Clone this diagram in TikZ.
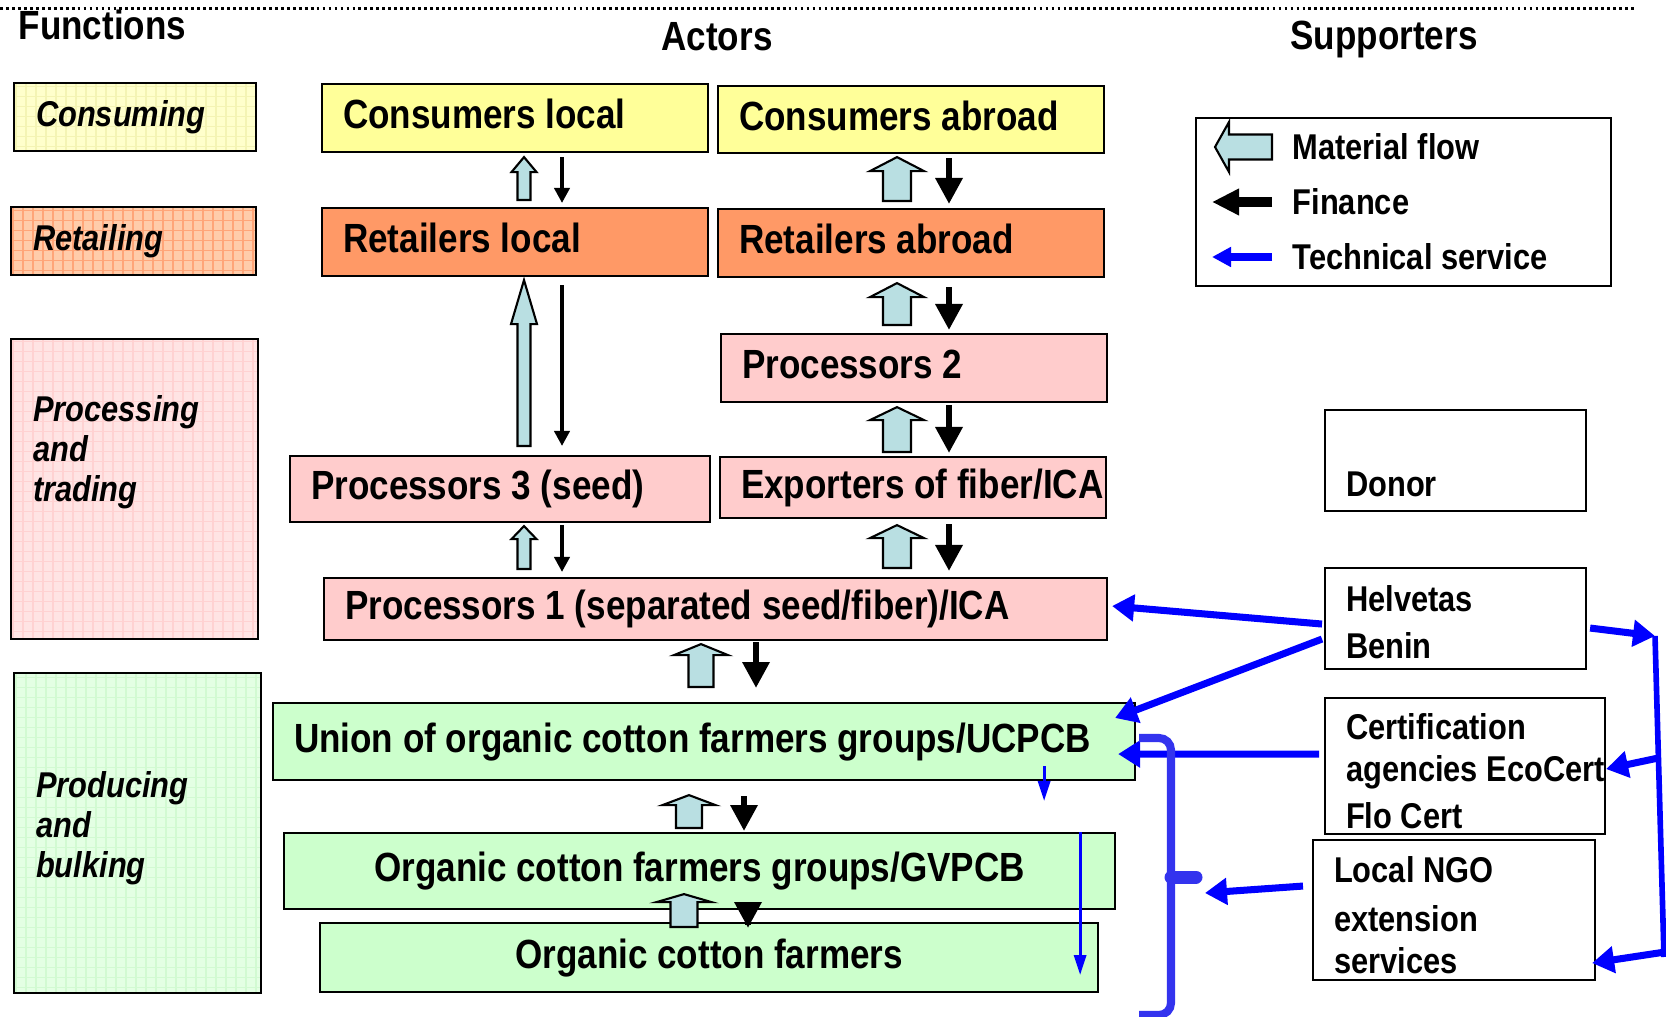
\documentclass[tikz,border=0pt]{standalone}
\usepackage{fontspec}
\setmainfont{Liberation Sans}[FakeStretch=0.86]
\usetikzlibrary{arrows.meta,calc}

\definecolor{yelbox}{RGB}{255,255,153}
\definecolor{orabox}{RGB}{255,153,102}
\definecolor{pinkbox}{RGB}{255,204,204}
\definecolor{grnbox}{RGB}{204,255,204}
\definecolor{yelfunc}{RGB}{255,255,204}
\definecolor{yelgrid}{RGB}{244,244,180}
\definecolor{orafunc}{RGB}{255,204,170}
\definecolor{oragrid}{RGB}{255,165,120}
\definecolor{pinkfunc}{RGB}{255,228,228}
\definecolor{pinkgrid}{RGB}{255,210,210}
\definecolor{grnfunc}{RGB}{228,255,228}
\definecolor{grngrid}{RGB}{210,250,210}
\definecolor{matblue}{RGB}{185,223,226}
\definecolor{bracecol}{RGB}{51,51,238}

% block arrow for the material flow: lower point, tip, shaft half, head half, head length
\newcommand\flowup[5]{%
  \filldraw[matflow] let \p1=#1, \p2=#2 in
    (\x1-#3,\y1) -- (\x1-#3,\y2-#5) -- (\x1-#4,\y2-#5) -- (\x1,\y2)
    -- (\x1+#4,\y2-#5) -- (\x1+#3,\y2-#5) -- (\x1+#3,\y1) -- cycle;}

\begin{document}
\begin{tikzpicture}[
  every node/.style={execute at begin node={\spaceskip=\fontdimen2\font\relax\xspaceskip=0pt}},
  actor/.style={draw, line width=.6pt, anchor=north west, inner xsep=0.21cm, inner ysep=0pt,
    align=left, text height=9.5pt, text depth=3.5pt, font=\fontsize{11.6}{14}\selectfont\bfseries},
  func/.style 2 args={draw, line width=.6pt, anchor=north west, fill=#1, inner xsep=0.22cm,
    inner ysep=0pt, align=left, font=\fontsize{10.2}{11.4}\selectfont\bfseries\itshape,
    path picture={\draw[#2, line width=.4pt, step=0.1]
      (path picture bounding box.south west) grid (path picture bounding box.north east);}},
  supp/.style={draw, line width=.6pt, anchor=north west, inner xsep=0.21cm, inner ysep=0pt,
    align=left, font=\fontsize{10.2}{13.4}\selectfont\bfseries},
  legtext/.style={anchor=west, inner sep=0pt, font=\fontsize{10.2}{12}\selectfont\bfseries},
  heading/.style={anchor=base, inner sep=0pt, font=\fontsize{11.6}{14}\selectfont\bfseries},
  matflow/.style={fill=matblue, draw=black, line width=.6pt},
  fin/.style={draw=black, line width=1.3pt, -{Triangle[length=0.15cm,width=0.15cm]}},
  finthick/.style={draw=black, line width=1.8pt, -{Triangle[length=0.26cm,width=0.26cm]}},
  tech/.style={draw=blue, line width=2pt, -{Triangle[length=0.22cm,width=0.26cm]}},
  thintech/.style={draw=blue, line width=.9pt, -{Triangle[length=0.2cm,width=0.12cm]}},
  techbrace/.style={draw=bracecol, line width=2.3pt}]

\useasboundingbox (0,0) rectangle (16.66,-10.17);
\draw[line width=1pt, dash pattern=on 0.8pt off 0.9pt] (0,-0.085) -- (16.36,-0.085);

%headings
\node[heading, anchor=base west] (functions) at (0.18,-0.40) {Functions};
\node[heading] (actors) at (7.17,-0.51) {Actors};
\node[heading] (supporters) at (13.84,-0.50) {Supporters};

%functions
\node[func={yelfunc}{yelgrid}, text width=1.98cm, minimum height=0.68cm] (consuming) at (0.13,-0.82) {Consuming};
\node[func={orafunc}{oragrid}, text width=2.01cm, minimum height=0.68cm] (retailing) at (0.10,-2.06) {Retailing};
\node[func={pinkfunc}{pinkgrid}, text width=2.03cm, minimum height=3.00cm, text depth=1.61cm] (processing) at (0.10,-3.38) {Processing\\and\\trading};
\node[func={grnfunc}{grngrid}, text width=2.03cm, minimum height=3.20cm, text depth=0.97cm] (producing) at (0.13,-6.72) {Producing\\and\\bulking};

%actors
\node[actor, fill=yelbox, text width=3.44cm, minimum height=0.68cm] (conslocal) at (3.21,-0.83) {Consumers local};
\node[actor, fill=yelbox, text width=3.44cm, minimum height=0.67cm] (consabroad) at (7.17,-0.85) {Consumers abroad};
\node[actor, fill=orabox, text width=3.44cm, minimum height=0.68cm] (retlocal) at (3.21,-2.07) {Retailers local};
\node[actor, fill=orabox, text width=3.44cm, minimum height=0.68cm] (retabroad) at (7.17,-2.08) {Retailers abroad};
\node[actor, fill=pinkbox, text width=3.44cm, minimum height=0.68cm] (proctwo) at (7.20,-3.33) {Processors 2};
\node[actor, fill=pinkbox, text width=3.78cm, minimum height=0.66cm] (procthree) at (2.89,-4.55) {Processors 3 (seed)};
\node[actor, fill=pinkbox, text width=3.44cm, minimum height=0.61cm] (exporters) at (7.19,-4.56) {\mbox{Exporters of fiber/ICA}};
\node[actor, fill=pinkbox, text width=7.41cm, minimum height=0.62cm] (procone) at (3.23,-5.77) {Processors 1 (separated seed/fiber)/ICA};
\node[actor, fill=grnbox, text width=8.20cm, minimum height=0.77cm] (union) at (2.72,-7.02) {Union of organic cotton farmers groups/UCPCB};
\node[actor, fill=grnbox, text width=7.89cm, minimum height=0.76cm, align=center] (groups) at (2.83,-8.32) {Organic cotton farmers groups/GVPCB};
\node[actor, fill=grnbox, text width=7.36cm, minimum height=0.69cm, align=center] (farmers) at (3.19,-9.22) {Organic cotton farmers};

%supporters
\node[draw, line width=.6pt, anchor=north west, minimum width=4.15cm, minimum height=1.68cm, inner sep=0pt] (legend) at (11.95,-1.17) {};
\node[legtext] (lmat) at (12.92,-1.47) {Material flow};
\node[legtext] (lfin) at (12.92,-2.02) {Finance};
\node[legtext] (ltech) at (12.92,-2.57) {Technical service};
\node[supp, text width=2.19cm, minimum height=1.01cm, text height=0.72cm] (donor) at (13.24,-4.09) {Donor};
\node[supp, text width=2.19cm, minimum height=1.01cm, text height=0.34cm] (helvetas) at (13.24,-5.67) {Helvetas\\Benin};
\node[supp, text width=2.38cm, minimum height=1.36cm, text height=0.36cm, font=\fontsize{10.2}{11.9}\selectfont\bfseries] (certif) at (13.24,-6.97) {Certification\\\mbox{agencies EcoCert}\\[1.4pt]Flo Cert};
\node[supp, text width=2.40cm, minimum height=1.40cm, text height=0.36cm, font=\fontsize{10.2}{11.9}\selectfont\bfseries] (ngo) at (13.12,-8.39) {Local NGO\\[2.3pt]extension\\services};

%legend arrows
\filldraw[matflow, shift={(lmat.west)}] (-0.20,0.125) -- (-0.63,0.125) -- (-0.63,0.25) -- (-0.77,0)
  -- (-0.63,-0.25) -- (-0.63,-0.125) -- (-0.20,-0.125) -- cycle;
\draw[fin, line width=2.8pt, -{Triangle[length=0.27cm,width=0.25cm]}] ([xshift=-0.2cm]lfin.west) -- ([xshift=-0.8cm]lfin.west);
\draw[tech, -{Triangle[length=0.19cm,width=0.19cm]}] ([xshift=-0.2cm]ltech.west) -- ([xshift=-0.8cm]ltech.west);

%arrow columns
\coordinate (bl) at (5.24,0); \coordinate (fl) at (5.62,0);
\coordinate (ba) at (8.97,0); \coordinate (fa) at (9.49,0);
\coordinate (bu) at (7.01,0); \coordinate (fu) at (7.56,0);
\coordinate (bg) at (6.89,0); \coordinate (fg) at (7.44,0);
\coordinate (bf) at (6.84,0); \coordinate (ff) at (7.48,0);

%material flow
\flowup{($(retlocal.north -| bl)+(0,0.07)$)}{($(conslocal.south -| bl)+(0,-0.04)$)}{0.065cm}{0.125cm}{0.15cm}
\flowup{($(retabroad.north -| ba)+(0,0.07)$)}{($(consabroad.south -| ba)+(0,-0.03)$)}{0.14cm}{0.27cm}{0.14cm}
\flowup{($(procthree.north -| bl)+(0,0.09)$)}{($(retlocal.south -| bl)+(0,-0.03)$)}{0.065cm}{0.13cm}{0.44cm}
\flowup{($(proctwo.north -| ba)+(0,0.08)$)}{($(retabroad.south -| ba)+(0,-0.05)$)}{0.14cm}{0.27cm}{0.14cm}
\flowup{($(exporters.north -| ba)+(0,0.04)$)}{($(proctwo.south -| ba)+(0,-0.04)$)}{0.14cm}{0.27cm}{0.13cm}
\flowup{($(procone.north -| bl)+(0,0.08)$)}{($(procthree.south -| bl)+(0,-0.03)$)}{0.065cm}{0.125cm}{0.13cm}
\flowup{($(procone.north -| ba)+(0,0.09)$)}{($(exporters.south -| ba)+(0,-0.06)$)}{0.14cm}{0.27cm}{0.13cm}
\flowup{($(union.north -| bu)+(0,0.15)$)}{($(procone.south -| bu)+(0,-0.03)$)}{0.125cm}{0.27cm}{0.11cm}
\flowup{($(groups.north -| bg)+(0,0.04)$)}{($(union.south -| bg)+(0,-0.14)$)}{0.13cm}{0.265cm}{0.10cm}
\flowup{($(farmers.north -| bf)+(0,-0.05)$)}{($(groups.south -| bf)+(0,0.16)$)}{0.135cm}{0.275cm}{0.08cm}

%finance
\draw[fin, shorten <=0.04cm, shorten >=0.04cm] (conslocal.south -| fl) -- (retlocal.north -| fl);
\draw[finthick, shorten <=0.04cm, shorten >=0.04cm] (consabroad.south -| fa) -- (retabroad.north -| fa);
\draw[fin, shorten <=0.08cm, shorten >=0.09cm] (retlocal.south -| fl) -- (procthree.north -| fl);
\draw[finthick, shorten <=0.09cm, shorten >=0.03cm] (retabroad.south -| fa) -- (proctwo.north -| fa);
\draw[finthick, shorten <=0.02cm, shorten >=0.03cm] (proctwo.south -| fa) -- (exporters.north -| fa);
\draw[fin, shorten <=0.02cm, shorten >=0.05cm] (procthree.south -| fl) -- (procone.north -| fl);
\draw[finthick, shorten <=0.05cm, shorten >=0.06cm] (exporters.south -| fa) -- (procone.north -| fa);
\draw[finthick, shorten <=0.01cm, shorten >=0.14cm] (procone.south -| fu) -- (union.north -| fu);
\draw[finthick, shorten <=0.15cm, shorten >=0.01cm] (union.south -| fg) -- (groups.north -| fg);
\draw[finthick, shorten <=-0.15cm, shorten >=-0.06cm] (groups.south -| ff) -- (farmers.north -| ff);

%technical service
\coordinate (bracetip) at (12.05,-8.93);
\coordinate (railtop) at (16.55,-6.36);
\coordinate (railbot) at (16.64,-9.57);
\draw[tech] ([shift={(-0.02,-0.055)}]helvetas.west) -- ([shift={(0.04,0.03)}]procone.east);
\draw[tech] ([shift={(-0.02,-0.205)}]helvetas.west) -- ([shift={(-0.21,-0.16)}]union.north east);
\draw[tech] ([shift={(-0.05,0.12)}]certif.west) -- ([shift={(-0.18,-0.125)}]union.east);
\draw[tech] ([shift={(-0.09,0.24)}]ngo.west) -- (bracetip);
\draw[thintech] ([shift={(-0.92,0.15)}]union.south east) -- ([shift={(-0.92,-0.20)}]union.south east);
\draw[thintech] ([xshift=-0.36cm]groups.north east) -- ([shift={(-0.19,0.18)}]farmers.south east);
\draw[techbrace, rounded corners=0.12cm] (11.39,-7.38) -- (11.71,-7.38) -- (11.71,-10.15) -- (11.39,-10.15);
\draw[techbrace, line width=3.7pt, line cap=round] (11.71,-8.77) -- (11.96,-8.77);
\draw[tech] ([shift={(0.03,-0.095)}]helvetas.east) -- (railtop);
\draw[draw=blue, line width=1.6pt] (railtop) -- (railbot);
\draw[tech] ($(railtop)!0.38!(railbot)$) -- ([yshift=-0.03cm]certif.east);
\draw[tech] ($(railtop)!0.985!(railbot)$) -- ([shift={(-0.04,-0.53)}]ngo.east);
\end{tikzpicture}
\end{document}
